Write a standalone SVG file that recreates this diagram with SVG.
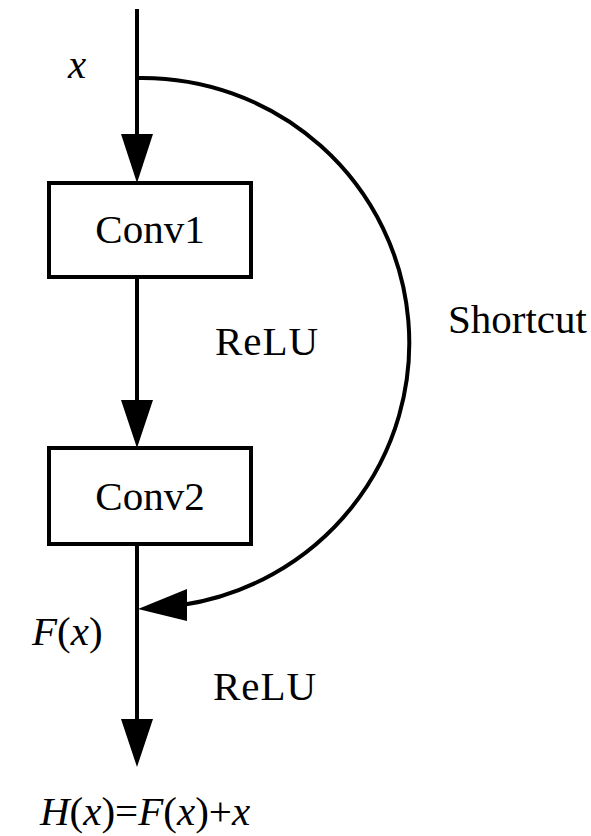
<svg xmlns="http://www.w3.org/2000/svg" width="591" height="836" viewBox="0 0 591 836">
<style>
.ln{stroke:#000;stroke-width:4;fill:none}
.bx{stroke:#000;stroke-width:4;fill:#fff}
.t{font-family:"Liberation Serif","Times New Roman",serif;font-size:41px;fill:#000}
.i{font-style:italic}
.ah{fill:#000;stroke:none}
</style>
<rect width="591" height="836" fill="#fff"/>
<g id="connectors">
<line class="ln" x1="137" y1="9" x2="137" y2="140"/>
<polygon class="ah" points="121,134 153,134 137,183"/>
<line class="ln" x1="137" y1="277" x2="137" y2="405"/>
<polygon class="ah" points="121,400 153,400 137,448"/>
<line class="ln" x1="137" y1="544" x2="137" y2="725"/>
<polygon class="ah" points="121,719 153,719 137,767"/>
<path class="ln" d="M137,78 A267,265 0 0 1 182,605"/>
<polygon class="ah" points="187,589 187,621 138,609"/>
</g>
<g id="conv1">
<rect class="bx" x="49" y="183" width="202" height="94"/>
<text class="t" x="150" y="243" text-anchor="middle">Conv1</text>
</g>
<g id="conv2">
<rect class="bx" x="49" y="448" width="202" height="96"/>
<text class="t" x="150" y="510" text-anchor="middle">Conv2</text>
</g>
<g id="labels">
<text class="t i" x="68" y="78">x</text>
<text class="t" x="215" y="355" letter-spacing="1">ReLU</text>
<text class="t" x="448" y="333">Shortcut</text>
<text class="t" x="32" y="645"><tspan class="i">F</tspan>(<tspan class="i">x</tspan>)</text>
<text class="t" x="213" y="700" letter-spacing="1">ReLU</text>
<text class="t" x="40" y="825"><tspan class="i">H</tspan>(<tspan class="i">x</tspan>)=<tspan class="i">F</tspan>(<tspan class="i">x</tspan>)+<tspan class="i">x</tspan></text>
</g>
</svg>
